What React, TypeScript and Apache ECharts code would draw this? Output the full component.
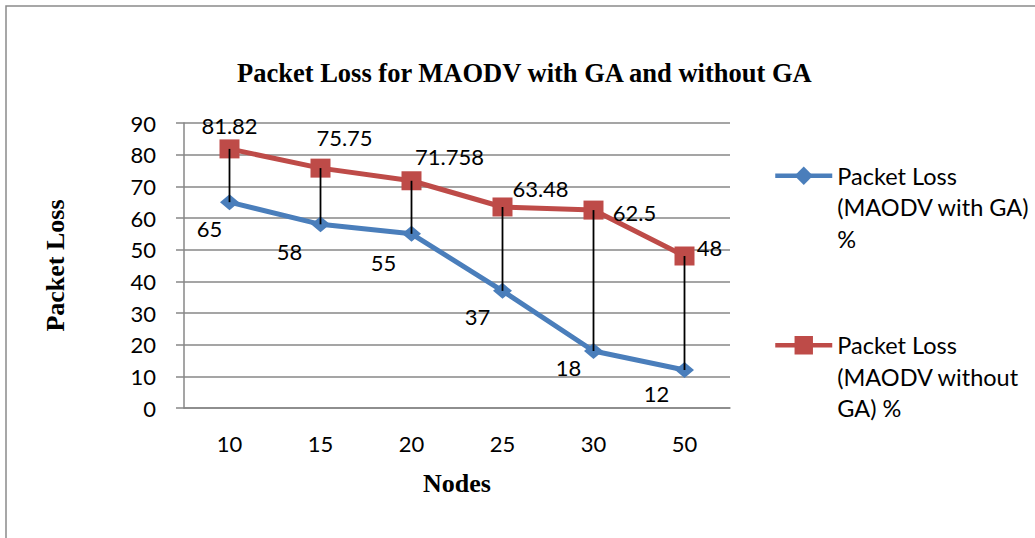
import React, { useEffect, useRef } from "react";
import * as echarts from "echarts";

const nodes = ["10", "15", "20", "25", "30", "50"];
const withGA = [65, 58, 55, 37, 18, 12];
const withoutGA = [81.82, 75.75, 71.758, 63.48, 62.5, 48];
const withGALabels = ["65", "58", "55", "37", "18", "12"];
const withoutGALabels = ["81.82", "75.75", "71.758", "63.48", "62.5", "48"];
const yTicks = { min: 0, max: 90, interval: 10 };

// label offsets (style only)
const blueOffsets = [[-20, 26], [-31, 27], [-28, 29], [-25, 26], [-25, 16], [-28, 23]];
const redOffsets = [[0, -23], [24, -31], [38, -24], [38, -18], [41, 2], [25, -9]];

const SANS = "Lato";
const SERIF = "'Liberation Serif', 'Times New Roman', serif";

export default function App() {
  const ref = useRef<HTMLDivElement>(null);
  useEffect(() => {
    if (!ref.current) return;
    const chart = echarts.init(ref.current, null, { renderer: "svg" });
    const labelStyle = { fontFamily: SANS, fontSize: 22, color: "#000" };
    const blueData = withGA.map((v, i) => ({
      value: v,
      label: { show: true, position: "inside", offset: blueOffsets[i], formatter: withGALabels[i], ...labelStyle },
    }));
    const redData = withoutGA.map((v, i) => ({
      value: v,
      label: { show: true, position: "inside", offset: redOffsets[i], formatter: withoutGALabels[i], ...labelStyle },
    }));
    const hiLo = nodes.map((_, i) => [i, withoutGA[i], withGA[i]]);
    const legendNames = [
      "\n\nPacket Loss\n(MAODV with GA)\n%",
      "\n\nPacket Loss\n(MAODV without\nGA) %",
    ];
    chart.setOption({
      animation: false,
      backgroundColor: "#fff",
      title: {
        text: "Packet Loss for MAODV with GA and without GA",
        left: 232,
        top: 54,
        textStyle: { fontFamily: SERIF, fontWeight: "bold", fontSize: 26.5, color: "#000" },
      },
      graphic: [
        {
          type: "rect",
          shape: { x: 6, y: 6, width: 1060, height: 560 },
          style: { fill: "none", stroke: "#8a8a8a", lineWidth: 1.5 },
          silent: true,
          z: -10,
        },
      ],
      legend: {
        orient: "vertical",
        left: 768,
        top: 92,
        itemWidth: 57,
        itemHeight: 23,
        itemGap: 12,
        data: legendNames,
        lineStyle: { width: 4.5 },
        formatter: (n: string) => n,
        textStyle: { fontFamily: SANS, fontSize: 23.5, color: "#000", lineHeight: 31.5 },
      },
      grid: { left: 184, right: 305, top: 123, bottom: 130 },
      xAxis: {
        type: "category",
        data: nodes,
        boundaryGap: true,
        name: "Nodes",
        nameLocation: "middle",
        nameGap: 62,
        nameTextStyle: { fontFamily: SERIF, fontWeight: "bold", fontSize: 26, color: "#000" },
        axisLine: { lineStyle: { color: "#878787", width: 1.5 } },
        axisTick: { show: false },
        axisLabel: { fontFamily: SANS, fontSize: 22, color: "#000", margin: 24 },
        splitLine: { show: false },
      },
      yAxis: {
        type: "value",
        min: yTicks.min,
        max: yTicks.max,
        interval: yTicks.interval,
        name: "Packet Loss",
        nameLocation: "middle",
        nameGap: 116,
        nameRotate: 90,
        nameTextStyle: { fontFamily: SERIF, fontWeight: "bold", fontSize: 26, color: "#000" },
        axisLine: { show: true, lineStyle: { color: "#878787", width: 1.5 } },
        axisTick: { show: true, length: 8, lineStyle: { color: "#878787", width: 1.5 } },
        axisLabel: { fontFamily: SANS, fontSize: 22, color: "#000", margin: 28 },
        splitLine: { show: true, lineStyle: { color: "#878787", width: 1.5 } },
      },
      series: [
        {
          name: legendNames[0],
          type: "line",
          data: blueData,
          symbol: "diamond",
          symbolSize: [19, 16],
          lineStyle: { color: "#4A7EBB", width: 5 },
          itemStyle: { color: "#4A7EBB" },
          z: 3,
        },
        {
          name: legendNames[1],
          type: "line",
          data: redData,
          symbol: "rect",
          symbolSize: [20, 19],
          lineStyle: { color: "#BE4B48", width: 5 },
          itemStyle: { color: "#BE4B48" },
          z: 3,
        },
        {
          name: "hilo",
          type: "custom",
          data: hiLo,
          z: 10,
          renderItem: (_p: any, api: any) => {
            const a = api.coord([api.value(0), api.value(1)]);
            const b = api.coord([api.value(0), api.value(2)]);
            return {
              type: "line",
              shape: { x1: a[0], y1: a[1], x2: b[0], y2: b[1] },
              style: { stroke: "#000", lineWidth: 1.8 },
            };
          },
        },
      ],
    });
    return () => chart.dispose();
  }, []);
  return (
    <div
      ref={ref}
      style={{ position: "fixed", left: 0, top: 0, width: 1035, height: 538 }}
    />
  );
}
